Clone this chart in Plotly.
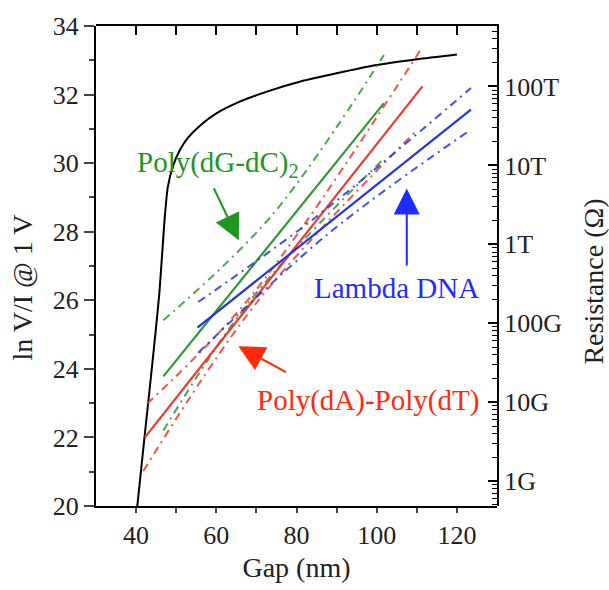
import plotly.graph_objects as go

# Measured ln(V/I) at 1 V versus electrode gap
gap_nm = [40.3, 42.0, 44.0, 45.8, 47.0, 47.9, 49.3, 51.0, 53.0, 56.0, 60.0,
          66.0, 73.0, 81.0, 90.0, 100.0, 110.0, 120.0]
ln_vi = [20.0, 21.9, 24.1, 26.2, 28.2, 29.3, 29.95, 30.4, 30.75, 31.1, 31.45,
         31.8, 32.1, 32.38, 32.62, 32.86, 33.03, 33.17]

# Linear fits (solid) with their confidence bands (dash-dot)
gc_fit_x = [46.8, 101.8]
gc_fit_y = [23.78, 31.75]
gc_up_x = [46.8, 73.5, 101.8]
gc_up_y = [25.42, 28.43, 33.15]
gc_lo_x = [46.8, 68.5, 101.5]
gc_lo_y = [22.2, 26.0, 30.1]

at_fit_x = [42.2, 111.4]
at_fit_y = [22.0, 32.24]
at_up_x = [42.7, 68.5, 111.4]
at_up_y = [22.98, 26.1, 33.39]
at_lo_x = [41.8, 70.2, 109.5]
at_lo_y = [21.02, 25.95, 30.9]

lam_fit_x = [55.3, 123.5]
lam_fit_y = [25.2, 31.56]
lam_up_x = [55.5, 84.3, 123.5]
lam_up_y = [25.95, 28.38, 32.19]
lam_lo_x = [55.5, 88.0, 123.5]
lam_lo_y = [24.47, 27.95, 30.98]

# Gap axis ticks
gap_major = [40, 60, 80, 100, 120]
gap_minor = [50, 70, 90, 110]

# Resistance axis decades (ohms) and their labels
res_ticks = [1e9, 1e10, 1e11, 1e12, 1e13, 1e14]
res_labels = ["1G", "10G", "100G", "1T", "10T", "100T"]
# Minor ticks 2..9 within each decade
res_minor = [m * 10 ** e for e in range(8, 15) for m in range(2, 10)]

# Resistance range matching ln(V/I) from 20 to 34
LN10 = 2.302585093
res_range = [20 / LN10, 34 / LN10]

GREEN = "#2f9a2f"
RED = "#ee3a2c"
BLUE = "#2536e0"
GREEN_T = "#1f961f"
RED_T = "#ff2a0a"
BLUE_T = "#1f2cff"

FONT = "Liberation Serif"

fig = go.Figure()

fig.add_trace(go.Scatter(x=gap_nm, y=ln_vi, mode="lines",
                         line=dict(color="black", width=2, shape="spline", smoothing=0.6)))

for fx, fy, ux, uy, lx, ly, col in [
    (gc_fit_x, gc_fit_y, gc_up_x, gc_up_y, gc_lo_x, gc_lo_y, GREEN),
    (at_fit_x, at_fit_y, at_up_x, at_up_y, at_lo_x, at_lo_y, RED),
    (lam_fit_x, lam_fit_y, lam_up_x, lam_up_y, lam_lo_x, lam_lo_y, BLUE),
]:
    fig.add_trace(go.Scatter(x=fx, y=fy, mode="lines", line=dict(color=col, width=2.2)))
    for bx, by in [(ux, uy), (lx, ly)]:
        fig.add_trace(go.Scatter(x=bx, y=by, mode="lines", opacity=0.85,
                                 line=dict(color=col, width=2, dash="8px,5px,2px,5px",
                                           shape="spline")))

# Second subplot sharing the same area: top gap axis and right resistance axis
fig.add_trace(go.Scatter(x=[], y=[], xaxis="x2", yaxis="y2", mode="lines", hoverinfo="skip"))

# Labels and arrows
fig.add_annotation(x=60.5, y=29.98, text="Poly(dG-dC)<sub>2</sub>", showarrow=False,
                   font=dict(family=FONT, size=29, color=GREEN_T))
fig.add_annotation(x=65.6, y=27.75, ax=59.2, ay=29.31, axref="x", ayref="y", text="",
                   showarrow=True, arrowhead=2, arrowsize=2.6, arrowwidth=2, arrowcolor=GREEN_T)

fig.add_annotation(x=104.9, y=26.36, text="Lambda DNA", showarrow=False,
                   font=dict(family=FONT, size=29, color=BLUE_T))
fig.add_annotation(x=107.5, y=29.26, ax=107.5, ay=26.97, axref="x", ayref="y", text="",
                   showarrow=True, arrowhead=2, arrowsize=2.6, arrowwidth=2, arrowcolor=BLUE_T)

fig.add_annotation(x=97.9, y=23.09, text="Poly(dA)-Poly(dT)", showarrow=False,
                   font=dict(family=FONT, size=29, color=RED_T))
fig.add_annotation(x=65.5, y=24.66, ax=77.75, ay=23.88, axref="x", ayref="y", text="",
                   showarrow=True, arrowhead=2, arrowsize=2.6, arrowwidth=2, arrowcolor=RED_T)

axis_font = dict(family=FONT, size=26, color="#222222")
title_font = dict(family=FONT, size=28, color="#222222")

# Vertical axis titles, placed as rotated paper annotations
fig.add_annotation(xref="paper", yref="paper", x=-0.182, y=0.455, text="ln V/I @ 1 V",
                   textangle=-90, showarrow=False, font=title_font, xanchor="center",
                   yanchor="middle")
fig.add_annotation(xref="paper", yref="paper", x=1.24, y=0.468, text="Resistance (Ω)",
                   textangle=-90, showarrow=False, font=title_font, xanchor="center",
                   yanchor="middle")

fig.update_layout(
    width=609, height=590,
    margin=dict(l=96, r=112, t=24, b=82),
    paper_bgcolor="white", plot_bgcolor="rgba(0,0,0,0)",
    showlegend=False,
    xaxis=dict(domain=[0, 1], anchor="y", range=[30, 130], tickvals=gap_major,
               ticks="outside", ticklen=5, tickwidth=1.5, showline=True, linewidth=2,
               linecolor="black", showgrid=False, zeroline=False, tickfont=axis_font,
               minor=dict(tickvals=gap_minor, ticks="outside", ticklen=5, tickwidth=1.5),
               title=dict(text="Gap (nm)", font=title_font, standoff=8)),
    yaxis=dict(domain=[0, 1], anchor="x", range=[20, 34], dtick=2, ticks="outside",
               ticklen=10, tickwidth=1.5, showline=True, linewidth=2, linecolor="black",
               showgrid=False, zeroline=False, tickfont=axis_font,
               minor=dict(dtick=1, ticks="outside", ticklen=5, tickwidth=1.5)),
    xaxis2=dict(domain=[0, 1], anchor="y2", side="top", range=[30, 130],
                tickvals=gap_major, ticks="inside", ticklen=9, tickwidth=1.5,
                tickcolor="black", showline=True, linewidth=2, linecolor="black",
                showticklabels=False, showgrid=False, zeroline=False,
                minor=dict(tickvals=gap_minor, ticks="inside", ticklen=9, tickwidth=1.5,
                           tickcolor="black")),
    yaxis2=dict(domain=[0, 1], anchor="x2", side="right", type="log", range=res_range,
                tickmode="array", tickvals=res_ticks, ticktext=res_labels,
                ticks="inside", ticklen=9, tickwidth=1.5, tickcolor="black",
                showline=True, linewidth=2, linecolor="black", showgrid=False,
                zeroline=False, tickfont=axis_font,
                minor=dict(tickmode="array", tickvals=res_minor, ticks="inside",
                           ticklen=5, tickwidth=1.2, tickcolor="black")),
)

fig.write_html("out.html")
